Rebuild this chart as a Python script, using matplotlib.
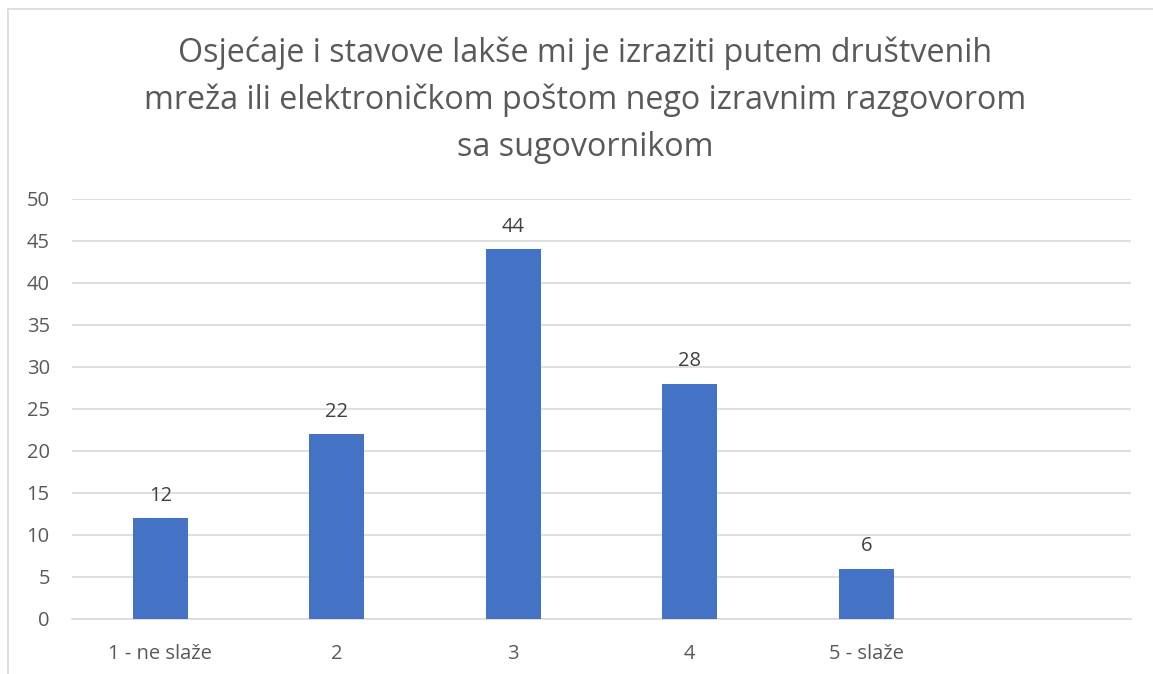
import matplotlib
matplotlib.use("Agg")
import matplotlib.pyplot as plt
from matplotlib.lines import Line2D

categories = ["1 - ne slaže", "2", "3", "4", "5 - slaže", ""]
values = [12, 22, 44, 28, 6, None]
yticks = [0, 5, 10, 15, 20, 25, 30, 35, 40, 45, 50]
title = ("Osjećaje i stavove lakše mi je izraziti putem društvenih\n"
         "mreža ili elektroničkom poštom nego izravnim razgovorom\n"
         "sa sugovornikom")

plt.rcParams['font.family'] = ['Open Sans', 'DejaVu Sans']
W, H = 1153, 674
fig = plt.figure(figsize=(W / 100, H / 100), dpi=100)
ax = fig.add_axes([72 / W, 1 - 619 / H, (1131 - 72) / W, (619 - 199) / H])

txt = "#595959"
grid = "#d9d9d9"
bar_color = "#4472C4"

xs = list(range(len(categories)))
bx = [x for x, v in zip(xs, values) if v is not None]
bv = [v for v in values if v is not None]
ax.bar(bx, bv, width=0.31, color=bar_color, zorder=3)
for x, v in zip(bx, bv):
    ax.annotate(str(v), (x, v), xytext=(0, 9), textcoords="offset points",
                ha="center", va="bottom", fontsize=14.5, color="#404040")

ax.set_xlim(-0.5, len(categories) - 0.5)
ax.set_ylim(0, 50)
ax.set_yticks(yticks)
ax.set_yticklabels([str(t) for t in yticks])
ax.set_xticks(xs)
ax.set_xticklabels(categories)
ax.tick_params(axis="y", length=0, pad=16, labelsize=14.5, labelcolor=txt)
ax.tick_params(axis="x", length=0, pad=18, labelsize=14.5, labelcolor=txt)
ax.grid(axis="y", color=grid, linewidth=1.2, zorder=0)
for s in ["top", "right", "left"]:
    ax.spines[s].set_visible(False)
ax.spines["bottom"].set_color(grid)
ax.spines["bottom"].set_linewidth(1.2)

fig.text(585 / W, 1 - 100 / H, title, ha="center", va="center",
         fontsize=23.2, color=txt, linespacing=1.55)

# chart frame (left and top edges visible)
fig.add_artist(Line2D([8 / W, 8 / W], [0, 1 - 9 / H], transform=fig.transFigure,
                      color="#d9d9d9", linewidth=1.2))
fig.add_artist(Line2D([8 / W, 1], [1 - 9 / H, 1 - 9 / H], transform=fig.transFigure,
                      color="#d9d9d9", linewidth=1.2))

fig.savefig("out.png", dpi=100, facecolor="white")
